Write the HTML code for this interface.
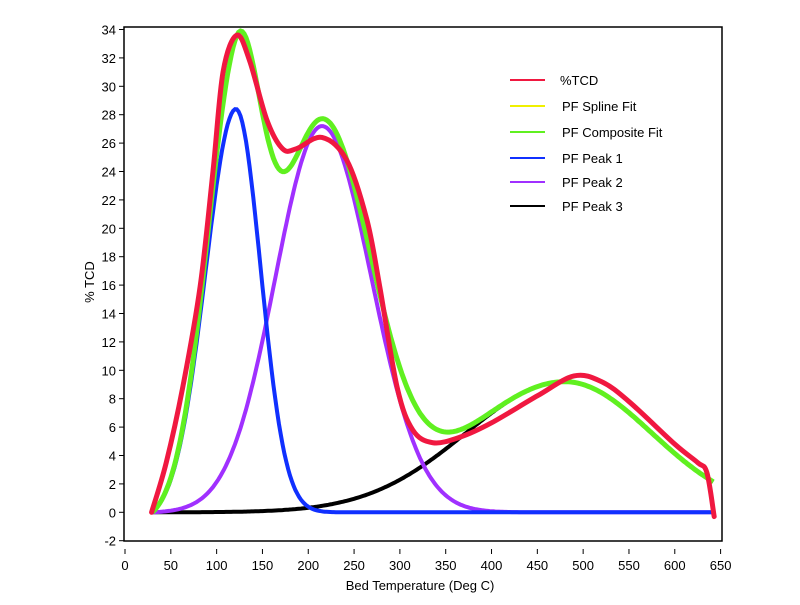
<!DOCTYPE html><html><head><style>body{margin:0;background:#fff}svg text{font-family:"Liberation Sans",sans-serif;fill:#000}</style></head><body>
<svg id="s" width="800" height="600" xmlns="http://www.w3.org/2000/svg">
<rect x="124" y="27" width="598" height="514" fill="none" stroke="#000" stroke-width="1.5"/>
<g id="ax" font-size="13"></g>
<text x="94" y="282" font-size="13" transform="rotate(-90 94 282)" text-anchor="middle">% TCD</text>
<text x="420" y="590" font-size="13" text-anchor="middle">Bed Temperature (Deg C)</text>
<path id="pk3" fill="none" stroke="#000" stroke-width="4"/>
<path id="pk2" fill="none" stroke="#a030ff" stroke-width="4"/>
<path id="pk1" fill="none" stroke="#1030ff" stroke-width="4"/>
<path id="comp" fill="none" stroke="#60f020" stroke-width="5"/>
<path id="red" fill="none" stroke="#f01840" stroke-width="5" stroke-linejoin="round" stroke-linecap="round"/>
<g font-size="13">
<line x1="510" y1="80" x2="545" y2="80" stroke="#f01840" stroke-width="2"/><text x="560" y="85">%TCD</text>
<line x1="510" y1="106" x2="545" y2="106" stroke="#f0f000" stroke-width="2"/><text x="562" y="111">PF Spline Fit</text>
<line x1="510" y1="132" x2="545" y2="132" stroke="#60f020" stroke-width="2"/><text x="562" y="137">PF Composite Fit</text>
<line x1="510" y1="158" x2="545" y2="158" stroke="#1030ff" stroke-width="2"/><text x="562" y="163">PF Peak 1</text>
<line x1="510" y1="182" x2="545" y2="182" stroke="#a030ff" stroke-width="2"/><text x="562" y="187">PF Peak 2</text>
<line x1="510" y1="206" x2="545" y2="206" stroke="#000" stroke-width="2"/><text x="562" y="211">PF Peak 3</text>
</g>
</svg>
<script>
var X=function(x){return 125+x*0.9163},Y=function(y){return 512.3-y*14.2};
var ax=document.getElementById('ax'),h='';
for(var v=-2;v<=34;v+=2){var y=Y(v);h+='<line x1="119" y1="'+y+'" x2="124" y2="'+y+'" stroke="#000"/><text x="116" y="'+(y+5)+'" text-anchor="end">'+v+'</text>';}
for(var v=0;v<=650;v+=50){var x=X(v);h+='<line x1="'+x+'" y1="549" x2="'+x+'" y2="554" stroke="#000"/><text x="'+x+'" y="570" text-anchor="middle">'+v+'</text>';}
ax.innerHTML=h;
function ag(x,c,a,sl,sr){var s=x<c?sl:sr;return a*Math.exp(-(x-c)*(x-c)/(2*s*s));}
function p1(x){var r=ag(x,121,28.4,33,27)-ag(30,121,28.4,33,27)*Math.max(0,1-(x-30)/90);return Math.max(r,0)}
function p2(x){var r=ag(x,215,27.2,51,54)-ag(30,215,27.2,51,54)*Math.max(0,1-(x-30)/90);return Math.max(r,0)}
function p3(x){return ag(x,480,9.2,108,95)}
function path(f){var d='';for(var x=30;x<=643;x+=2){d+=(d?'L':'M')+X(x).toFixed(1)+','+Y(f(x)).toFixed(1);}return d;}
document.getElementById('pk1').setAttribute('d',path(p1));
document.getElementById('pk2').setAttribute('d',path(p2));
document.getElementById('pk3').setAttribute('d',path(p3));
document.getElementById('comp').setAttribute('d',path(function(x){return p1(x)+p2(x)+p3(x)}));
var P=[[29,0],[45,3.5],[63,8.8],[82,15.9],[96,24],[107,31],[122,33.6],[136,31.8],[155,27.6],[172,25.6],[187,25.6],[215,26.4],[242,24.8],[264,20.6],[278,15.9],[297,8.8],[314,5.8],[336,4.9],[366,5.3],[400,6.3],[450,8.2],[490,9.6],[520,9.2],[550,7.8],[600,4.8],[625,3.5],[635,2.8],[643,-0.3]];
var d='M'+X(P[0][0])+','+Y(P[0][1]);
for(var i=0;i<P.length-1;i++){var a=P[Math.max(i-1,0)],b=P[i],c=P[i+1],e=P[Math.min(i+2,P.length-1)];
var c1=[X(b[0])+(X(c[0])-X(a[0]))/6,Y(b[1])+(Y(c[1])-Y(a[1]))/6],c2=[X(c[0])-(X(e[0])-X(b[0]))/6,Y(c[1])-(Y(e[1])-Y(b[1]))/6];
d+='C'+c1+' '+c2+' '+X(c[0])+','+Y(c[1]);}
document.getElementById('red').setAttribute('d',d);
</script>
</body></html>
